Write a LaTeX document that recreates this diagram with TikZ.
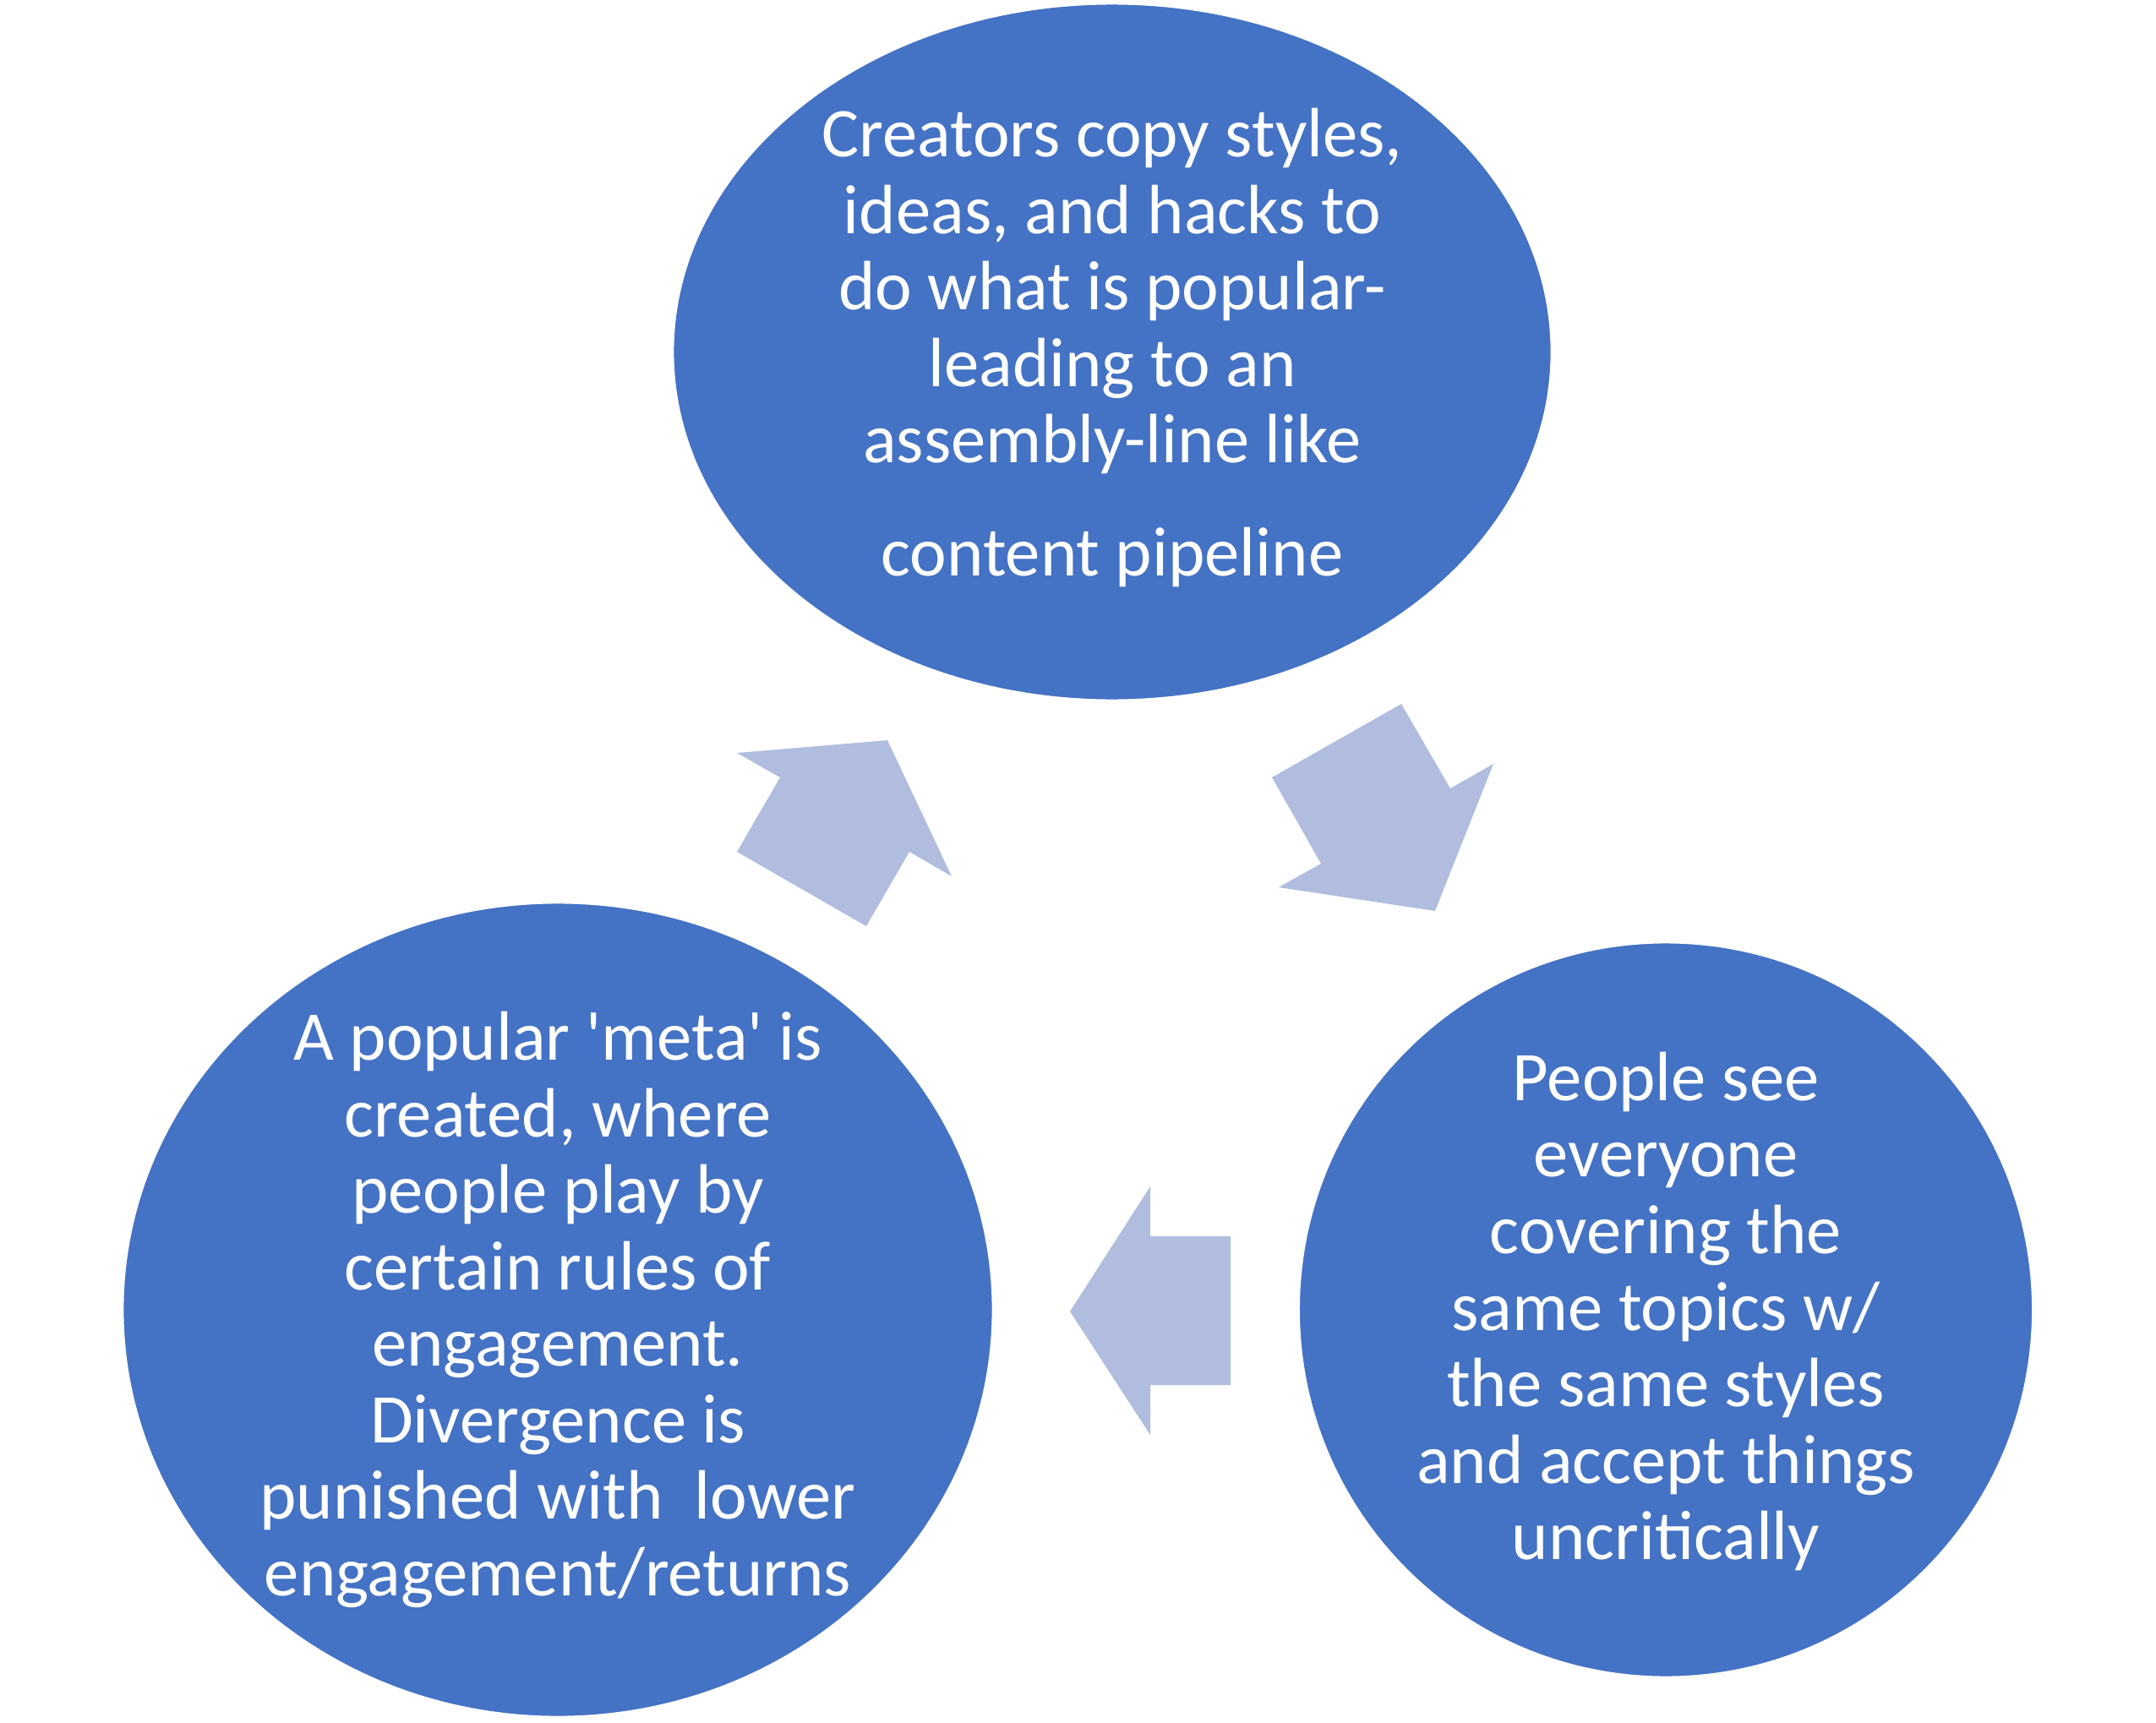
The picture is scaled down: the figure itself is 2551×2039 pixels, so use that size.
\documentclass[tikz,border=0pt]{standalone}
\usepackage{fontspec}
\newfontfamily\bubblefont{Carlito}
\usepackage{tikz}
\usetikzlibrary{shapes.geometric}
\definecolor{bubbleblue}{HTML}{4472C4}
\definecolor{arrowblue}{HTML}{B0BDDF}

\begin{document}
\begin{tikzpicture}[x=0.01cm, y=-0.01cm,
  bubble/.style={ellipse, fill=bubbleblue, draw=white, line width=0.4pt, inner sep=0pt},
  bubbletext/.style={text=white, align=center, inner sep=0pt,
    font=\bubblefont\fontsize{23.5}{25.75}\selectfont},
  cyclearrow/.style={fill=arrowblue}]
\useasboundingbox (0,0) rectangle (2551,2039);
% the three steps
\node[bubble, minimum width=10.38cm, minimum height=8.23cm] (copy) at (1316,416.5) {};
\node[bubble, minimum width=8.67cm, minimum height=8.68cm] (see) at (1971,1550) {};
\node[bubble, minimum width=10.28cm, minimum height=9.62cm] (meta) at (660,1550) {};
\node[bubbletext] (copytext) at ([yshift=0.05cm]copy.center)
  {Creators copy styles,\\ ideas, and hacks to\\ do what is popular-\\ leading to an\\ assembly-line like\\[0.52em] content pipeline};
\node[bubbletext] (seetext) at ([yshift=-0.02cm]see.center)
  {People see\\ everyone\\ covering the\\ same topics w/\\ the same styles\\ and accept things\\ uncritically};
\node[bubbletext] (metatext) at (meta.center)
  {A popular 'meta' is\\ created, where\\ people play by\\ certain rules of\\ engagement.\\ Divergence is\\ punished with\ \ lower\\ engagement/returns};
% block arrows between them
\fill[cyclearrow] (872,891) -- (1050,876) -- (1126,1037) -- (1076,1008) -- (1025,1096) -- (872,1008) -- (923,920) -- cycle;
\fill[cyclearrow] (1505,920) -- (1658,833) -- (1716,933) -- (1767,904) -- (1698,1078) -- (1513,1050) -- (1563,1022) -- cycle;
\fill[cyclearrow] (1266,1552) -- (1361,1404) -- (1361,1463) -- (1456,1463) -- (1456,1639) -- (1361,1639) -- (1361,1698) -- cycle;
\end{tikzpicture}
\end{document}
